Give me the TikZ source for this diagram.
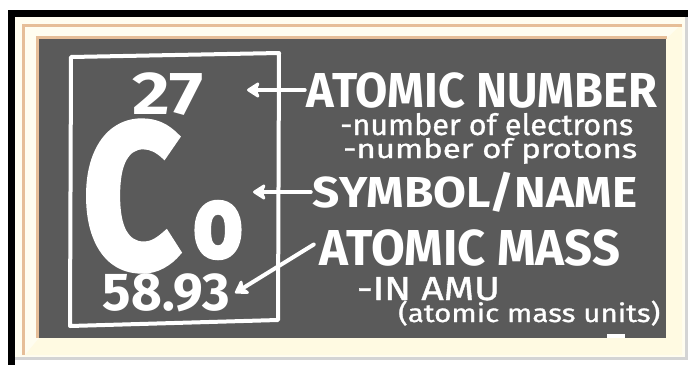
\documentclass[tikz,border=0pt]{standalone}
\usepackage{fontspec}
\setmainfont{Fira Sans}
\newfontfamily\chalkheavy{Fira Sans}[FakeBold=3]
\newfontfamily\chalkmid{Fira Sans}[FakeBold=1]
\usetikzlibrary{arrows.meta}
\usepackage{graphicx}
% fit a text to width #1 and cap height #2
\newcommand\capfit[3]{\resizebox{#1}{#2}{\raisebox{0pt}[\fontcharht\font`\A][0pt]{#3}}}
\newcommand\xfit[3]{\resizebox{#1}{#2}{\raisebox{0pt}[\fontcharht\font`\o][0pt]{#3}}}
% fit a text to width #1 and ascender height #2, keep the descenders
\newcommand\ascfit[3]{\resizebox{#1}{#2}{\raisebox{0pt}[\fontcharht\font`\b]{#3}}}
\begin{document}
\begin{tikzpicture}[x=1pt,y=-1pt,
    chalk/.style={white, inner sep=0pt, font=\bfseries},
    chalkthin/.style={white, inner sep=0pt, font=\chalkmid},
    chalkline/.style={white, line width=4pt, line join=round, line cap=round},
    chalkarrow/.style={chalkline, -{Stealth[length=15pt,width=19pt,inset=4pt,round]}}]
    \definecolor{myboard}{RGB}{90,90,90}
    \definecolor{mycream}{RGB}{255,253,240}
    \definecolor{mybevel}{RGB}{255,250,226}
    \definecolor{mytan}{RGB}{230,190,152}
    \definecolor{myedge}{RGB}{212,212,212}
    \useasboundingbox (0,0) rectangle (688,365);

    % frame
    \fill[white] (0,0) rectangle (688,365);
    \fill[black] (8,10) rectangle (688,17);
    \fill[black] (8,10) rectangle (15,365);
    \fill[mycream] (15,17) rectangle (685,357);
    \fill[myedge] (15,357) rectangle (688,360);
    \fill[myedge] (685,17) rectangle (688,360);
    \fill[mybevel] (666,39) -- (682,24) -- (682,355) -- (25,355) -- (39,338) -- (666,338) -- cycle;
    \fill[mytan] (22,24) rectangle (682,27);
    \fill[mytan] (22,24) rectangle (25,355);
    \fill[mytan] (36,36) rectangle (667,39);
    \fill[mytan] (36,36) rectangle (39,338);
    \fill[myboard] (39,39) rectangle (666,338);
    \fill[white] (607,334) rectangle (625,338);

    % element box
    \draw[chalkline] (71,57) -- (279,53) -- (278,320) -- (70,326) -- cycle;
    \node[chalk] (numval) at (168,93) {\capfit{71pt}{42pt}{27}};
    \node[chalk, font=\chalkheavy\bfseries] (symC) at (131.5,196) {\capfit{97pt}{142pt}{C}};
    \node[chalk, font=\chalkheavy\bfseries] (symo) at (218,230) {\xfit{50pt}{54pt}{o}};
    \node[chalk] (massval) at (166.5,291.5) {\capfit{127pt}{37pt}{58.93}};

    % labels
    \node[chalk] (lblnum) at (482,90) {\capfit{350pt}{34pt}{ATOMIC NUMBER}};
    \node[chalkthin, anchor=base west] (lblelec) at (340,135) {\ascfit{293pt}{22pt}{-number of electrons}};
    \node[chalkthin, anchor=base west] (lblprot) at (343,158) {\ascfit{294pt}{20pt}{-number of protons}};
    \node[chalk] (lblsym) at (475,192) {\capfit{324pt}{30pt}{SYMBOL/NAME}};
    \node[chalk] (lblmass) at (470,247.5) {\capfit{300pt}{35pt}{ATOMIC MASS}};
    \node[chalkthin] (lblamu) at (428.5,288.5) {\capfit{143pt}{23pt}{-IN AMU}};
    \node[chalkthin, anchor=base west] (lblunits) at (398,322) {\ascfit{262pt}{19pt}{(atomic mass units)}};

    % arrows
    \coordinate (numtip) at (247,90);
    \coordinate (symtip) at (253,192);
    \coordinate (masstip) at (235,293);
    \draw[chalkarrow] ([xshift=-2pt]lblnum.west) -- (numtip);
    \draw[chalkarrow] ([xshift=-2pt]lblsym.west) -- (symtip);
    \draw[chalkarrow] ([xshift=-6pt,yshift=3pt]lblmass.west) -- (masstip);
\end{tikzpicture}
\end{document}
